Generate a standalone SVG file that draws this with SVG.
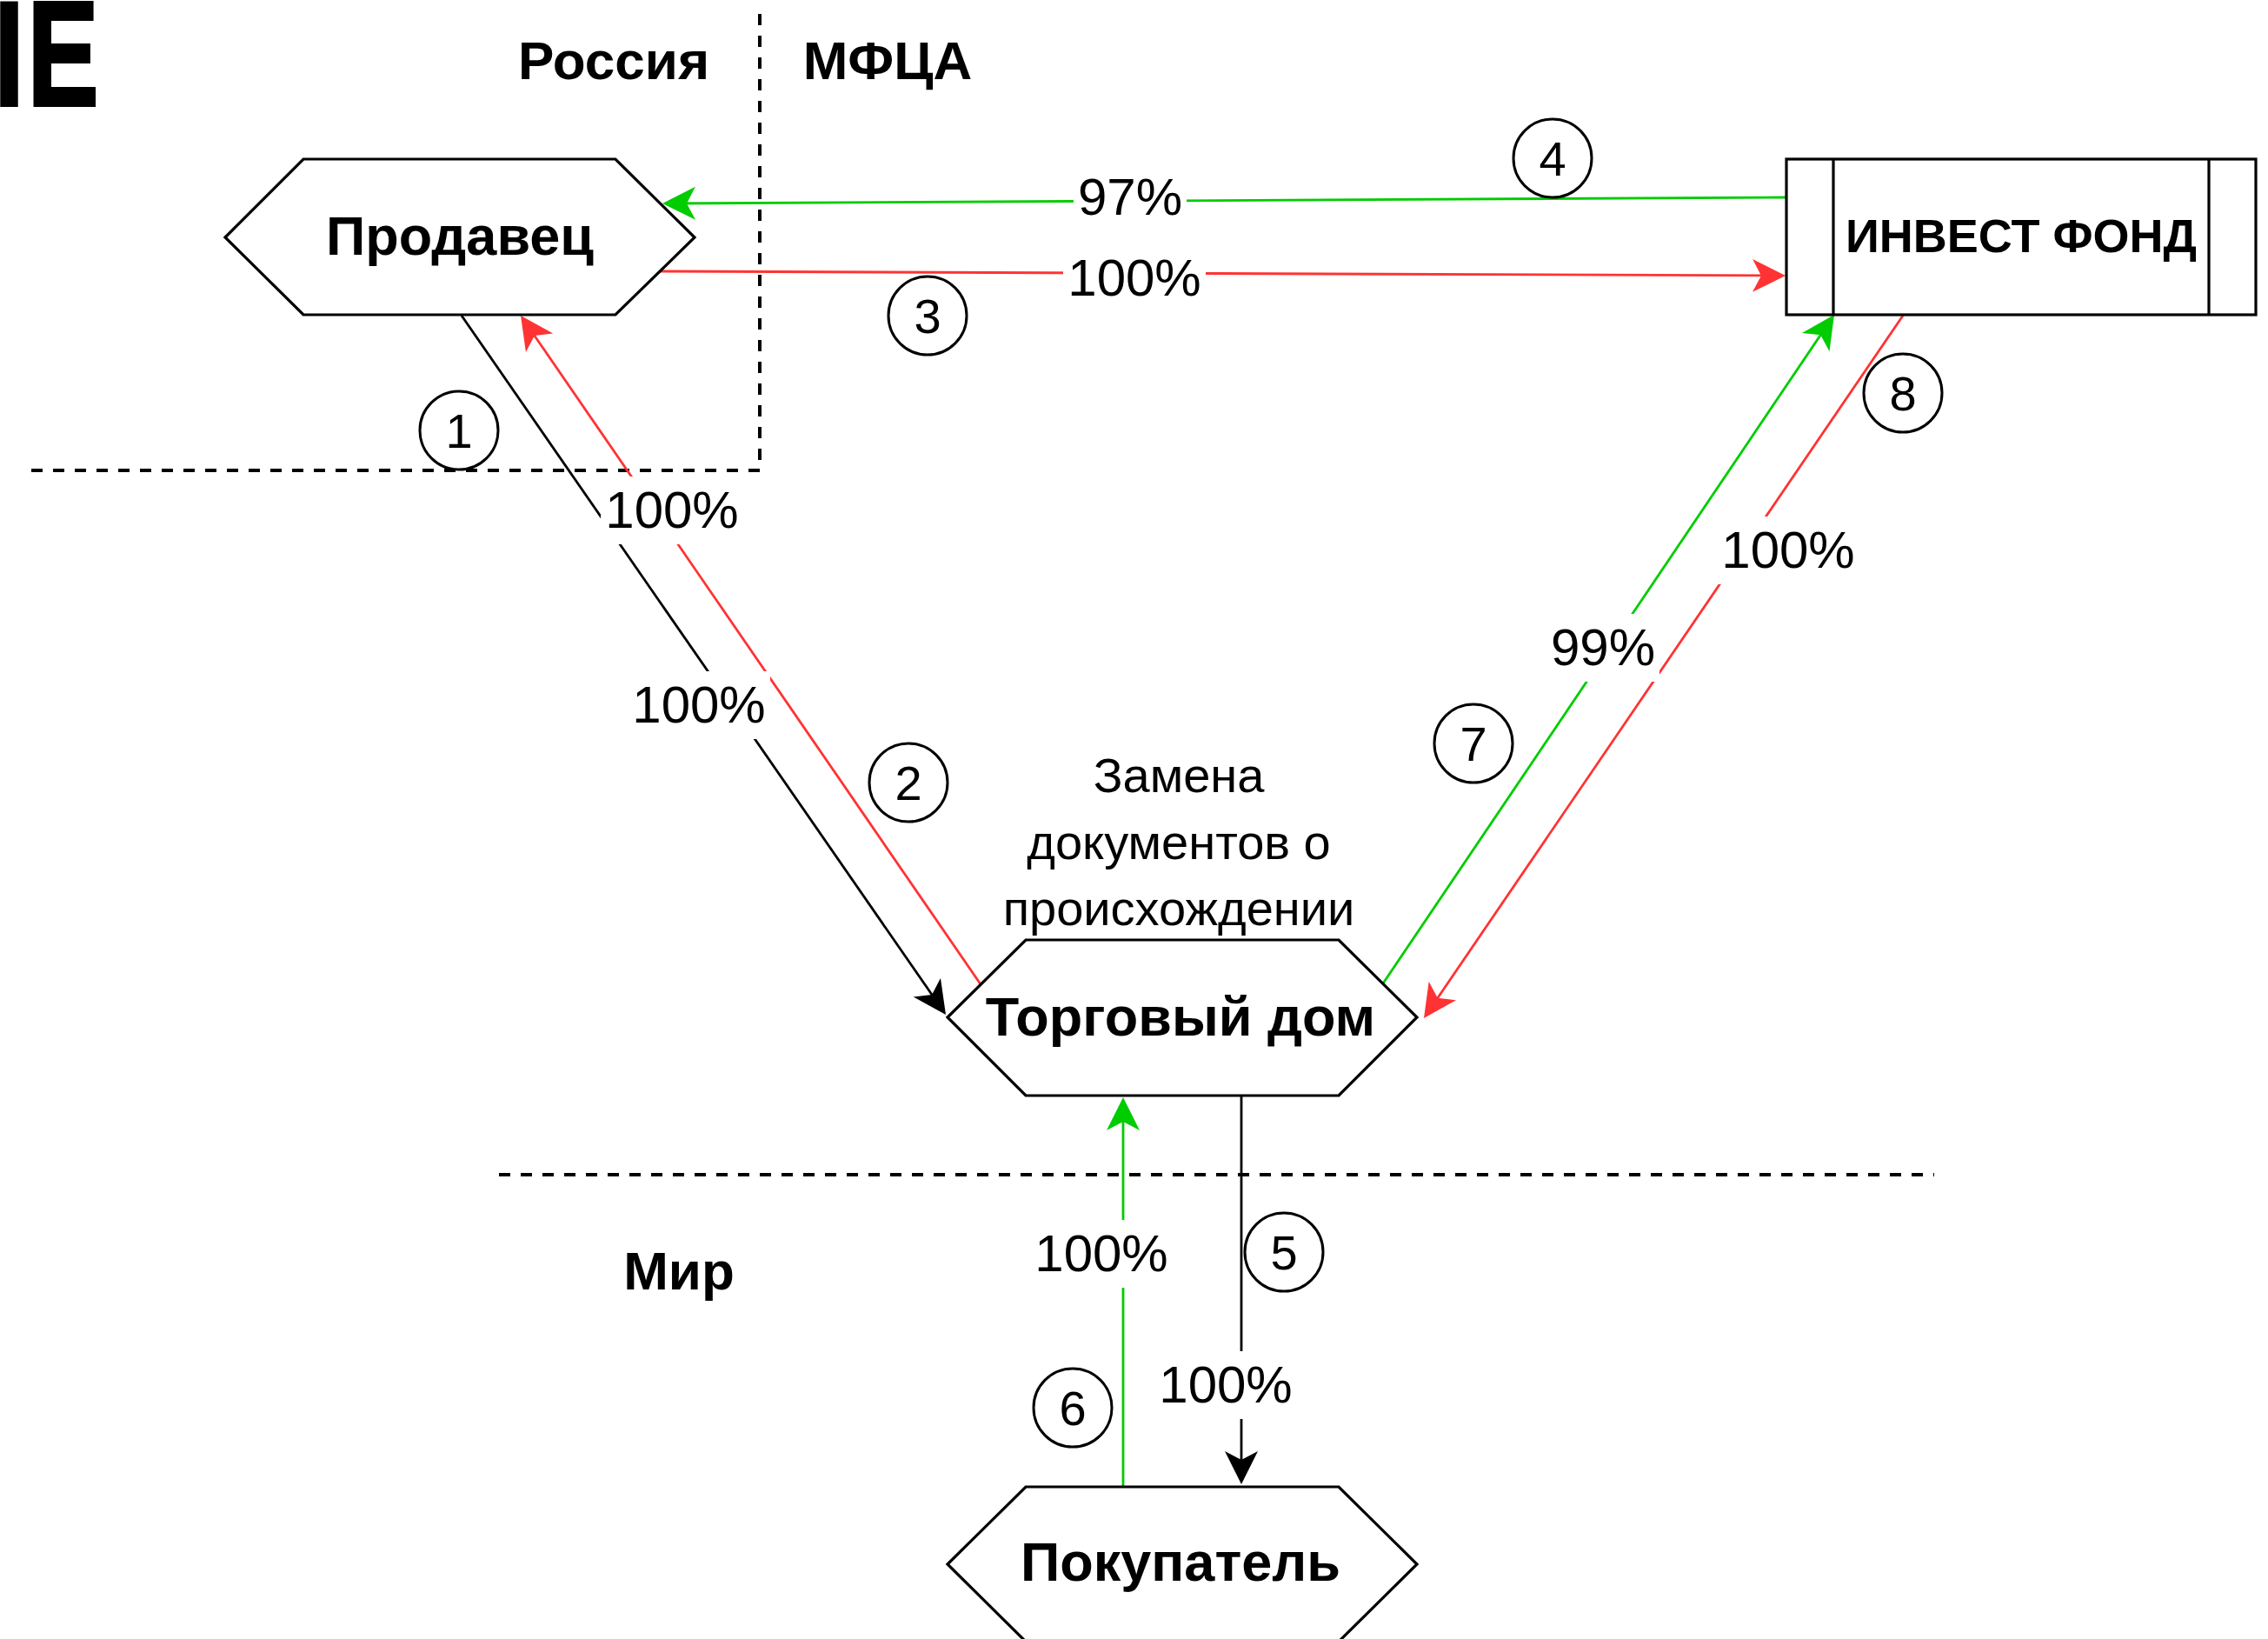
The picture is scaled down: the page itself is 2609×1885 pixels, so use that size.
<svg xmlns="http://www.w3.org/2000/svg" width="2609" height="1885" viewBox="0 0 2609 1885">
<defs>
<style>
.node{fill:#fff;stroke:#000;stroke-width:3.2}
.title{font-family:"Liberation Sans",Arial,sans-serif;font-weight:bold;font-size:63px;fill:#000;text-anchor:middle}
.zone{font-family:"Liberation Sans",Arial,sans-serif;font-weight:bold;font-size:62px;fill:#000;text-anchor:middle}
.lbl{font-family:"Liberation Sans",Arial,sans-serif;font-size:60px;fill:#000;text-anchor:middle}
.note{font-family:"Liberation Sans",Arial,sans-serif;font-size:56px;fill:#000;text-anchor:middle}
.num{font-family:"Liberation Sans",Arial,sans-serif;font-size:56px;fill:#000;text-anchor:middle}
.circ{fill:#fff;stroke:#000;stroke-width:3}
.dash{fill:none;stroke:#000;stroke-width:4;stroke-dasharray:13 12}
.edge{fill:none;stroke-width:2.8}
.blk{stroke:#000}
.grn{stroke:#00CC00}
.red{stroke:#FF3333}
.bg{fill:#fff;stroke:none}
</style>
<marker id="aBlk" markerUnits="userSpaceOnUse" viewBox="0 0 40 40" markerWidth="40" markerHeight="40" refX="28" refY="20" orient="auto"><path d="M0,1 L38,20 L0,39 L10,20 Z" fill="#000"/></marker>
<marker id="aGrn" markerUnits="userSpaceOnUse" viewBox="0 0 40 40" markerWidth="40" markerHeight="40" refX="28" refY="20" orient="auto"><path d="M0,1 L38,20 L0,39 L10,20 Z" fill="#00CC00"/></marker>
<marker id="aRed" markerUnits="userSpaceOnUse" viewBox="0 0 40 40" markerWidth="40" markerHeight="40" refX="28" refY="20" orient="auto"><path d="M0,1 L38,20 L0,39 L10,20 Z" fill="#FF3333"/></marker>
</defs>
<rect x="0" y="0" width="2609" height="1885" fill="#fff"/>

<text transform="scale(0.72,1)" x="-9" y="121" font-family="Liberation Sans, Arial, sans-serif" font-weight="bold" font-size="170" letter-spacing="6" fill="#000" stroke="#000" stroke-width="4">IE</text>

<g id="zones">
<path class="dash" d="M874,16 L874,541 L26,541"/>
<path class="dash" d="M574,1351 L2225,1351"/>
<text class="zone" x="706" y="91">Россия</text>
<text class="zone" x="1021" y="91">МФЦА</text>
<text class="zone" x="781" y="1483">Мир</text>
</g>

<g id="connectors">
<path class="edge blk" d="M531,363 L1082.3,1158.8" marker-end="url(#aBlk)"/>
<path class="edge red" d="M1128,1132 L604.7,371.2" marker-end="url(#aRed)"/>
<path class="edge red" d="M760,312 L2044,317" marker-end="url(#aRed)"/>
<path class="edge grn" d="M2055,227 L772,234" marker-end="url(#aGrn)"/>
<path class="edge blk" d="M1428,1260 L1428,1697" marker-end="url(#aBlk)"/>
<path class="edge grn" d="M1292,1710 L1292,1272" marker-end="url(#aGrn)"/>
<path class="edge grn" d="M1591,1131 L2104.4,370.3" marker-end="url(#aGrn)"/>
<path class="edge red" d="M2189,363 L1643.6,1162.7" marker-end="url(#aRed)"/>

<rect class="bg" x="722" y="772" width="164" height="78"/>
<text class="lbl" x="804" y="831">100%</text>
<rect class="bg" x="691" y="548" width="164" height="78"/>
<text class="lbl" x="773" y="607">100%</text>
<rect class="bg" x="1223" y="281" width="164" height="78"/>
<text class="lbl" x="1305" y="340">100%</text>
<rect class="bg" x="1235" y="188" width="130" height="78"/>
<text class="lbl" x="1300" y="247">97%</text>
<rect class="bg" x="1328" y="1554" width="164" height="78"/>
<text class="lbl" x="1410" y="1613">100%</text>
<rect class="bg" x="1185" y="1403" width="164" height="78"/>
<text class="lbl" x="1267" y="1462">100%</text>
<rect class="bg" x="1779" y="706" width="130" height="78"/>
<text class="lbl" x="1844" y="765">99%</text>
<rect class="bg" x="1975" y="594" width="164" height="78"/>
<text class="lbl" x="2057" y="653">100%</text>
</g>

<g id="steps">
<circle class="circ" cx="528" cy="495" r="45"/><text class="num" x="528" y="515">1</text>
<circle class="circ" cx="1045" cy="900" r="45"/><text class="num" x="1045" y="920">2</text>
<circle class="circ" cx="1067" cy="363" r="45"/><text class="num" x="1067" y="383">3</text>
<circle class="circ" cx="1786" cy="182" r="45"/><text class="num" x="1786" y="202">4</text>
<circle class="circ" cx="1477" cy="1440" r="45"/><text class="num" x="1477" y="1460">5</text>
<circle class="circ" cx="1234" cy="1619" r="45"/><text class="num" x="1234" y="1639">6</text>
<circle class="circ" cx="1695" cy="855" r="45"/><text class="num" x="1695" y="875">7</text>
<circle class="circ" cx="2189" cy="452" r="45"/><text class="num" x="2189" y="472">8</text>
</g>

<g id="seller">
<path class="node" d="M259,273 L349,183 L708,183 L799,273 L708,362 L349,362 Z"/>
<text class="title" x="529" y="293">Продавец</text>
</g>

<g id="fund">
<rect class="node" x="2055" y="183" width="540" height="179"/>
<path class="node" d="M2109,183 L2109,362 M2541,183 L2541,362"/>
<text class="title" x="2325" y="290" style="font-size:54px">ИНВЕСТ ФОНД</text>
</g>

<g id="tradehouse">
<path class="node" d="M1090,1170 L1180,1081 L1540,1081 L1630,1170 L1540,1260 L1180,1260 Z"/>
<text class="title" x="1358" y="1191">Торговый дом</text>
</g>

<g id="tradehouse-note">
<text class="note" x="1356" y="911">Замена</text>
<text class="note" x="1356" y="988">документов о</text>
<text class="note" x="1356" y="1064">происхождении</text>
</g>

<g id="buyer">
<path class="node" d="M1090,1799 L1180,1710 L1540,1710 L1630,1799 L1540,1888 L1180,1888 Z"/>
<text class="title" x="1358" y="1818">Покупатель</text>
</g>
</svg>
